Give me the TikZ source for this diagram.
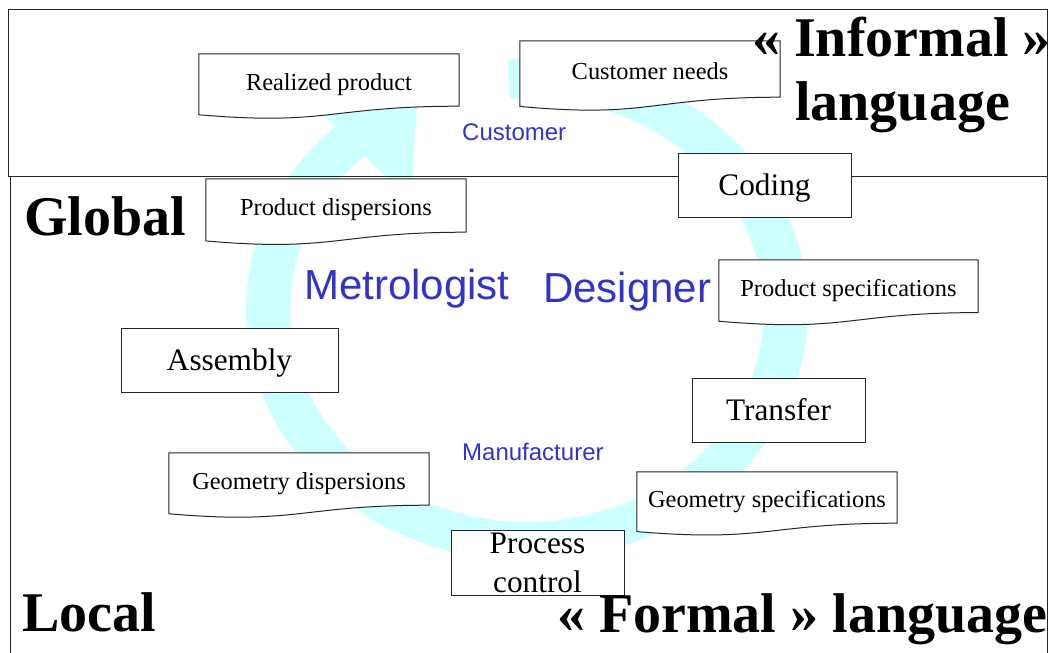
\documentclass[tikz,border=0pt]{standalone}
\usepackage{fontspec}
\setmainfont{Liberation Serif}
\newfontfamily\arialfont{Liberation Sans}
\usetikzlibrary{calc}
\definecolor{ringcyan}{HTML}{CCFFFF}
\definecolor{roleblue}{HTML}{3333CC}
\pgfdeclarelayer{bg}
\pgfsetlayers{bg,main}
\newcommand\docoutline[2]{\path[docline] (#1.north west) -- (#1.north east) -- (#1.south east) .. controls (#1.south) and ($(#1.south)+(0,{0.305*#2})$) .. ($(#1.south west)+(0,{0.132*#2})$) -- cycle;}
\begin{document}
\begin{tikzpicture}[x=1pt,y=-1pt,
  frame/.style={draw=black!85, line width=1pt},
  boxbase/.style={draw=black!85, line width=1pt, fill=white, inner sep=0pt, font=\fontsize{31.3}{39}\selectfont},
  boxnode/.style={boxbase, text height=28pt, text depth=7pt},
  docnode/.style={inner sep=0pt, font=\fontsize{24.4}{29}\selectfont, text height=25pt, text depth=5pt},
  docline/.style={draw=black!85, line width=1pt, fill=white},
  biglabel/.style={inner sep=0pt, anchor=base west, font=\fontsize{56}{60}\selectfont\bfseries},
  role/.style={inner sep=0pt, anchor=base west, text=roleblue, font=\arialfont\fontsize{24}{28}\selectfont},
  bigrole/.style={inner sep=0pt, anchor=base west, text=roleblue, font=\arialfont\fontsize{42}{48}\selectfont}
]
\useasboundingbox (0,0) rectangle (1053,653);

% document shapes (text nodes)
\node[docnode, minimum width=260pt, minimum height=52pt] (realized) at (329,80) {Realized product};
\node[docnode, minimum width=260pt, minimum height=56pt] (needs) at (650,69) {Customer needs};
\node[docnode, minimum width=260pt, minimum height=53pt] (pdisp) at (336,205.5) {Product dispersions};
\node[docnode, minimum width=259pt, minimum height=52.4pt] (pspec) at (848.5,286.2) {Product specifications};
\node[docnode, minimum width=260pt, minimum height=51pt] (gspec) at (767,497.5) {Geometry specifications};
\node[docnode, minimum width=260pt, minimum height=52pt] (gdisp) at (299,479) {Geometry dispersions};

% process boxes
\node[boxnode, minimum width=173pt, minimum height=64pt] (coding) at (764.5,185) {Coding};
\node[boxnode, minimum width=217pt, minimum height=64pt] (assembly) at (229.5,360) {Assembly};
\node[boxnode, minimum width=173pt, minimum height=64pt] (transfer) at (778.5,410) {Transfer};
\node[boxbase, minimum width=173pt, minimum height=65pt, align=center] (process) at (537.5,562.5) {Process\\control};

% big labels
\node[biglabel] (informal) at (752,56) {« Informal »};
\node[biglabel] (langtop) at (795,120) {language};
\node[biglabel] (global) at (24,235) {Global};
\node[biglabel] (local) at (22,631) {Local};
\node[biglabel] (formal) at (557,632) {« Formal » language};

% roles
\node[role] (customer) at (462,140) {Customer};
\node[role] (manuf) at (462,460) {Manufacturer};
\node[bigrole] (metro) at (304,299) {Metrologist};
\node[bigrole] (designer) at (543,302) {Designer};

\begin{pgfonlayer}{bg}
  % cyan circular arrow
  \fill[ringcyan] ($(527,310)+(-94:281 and 251)$)
     arc[start angle=-94, end angle=229, x radius=281, y radius=251]
     -- ($(527,310)+(229:237 and 212)$)
     arc[start angle=229, end angle=-94, x radius=237, y radius=212] -- cycle;
  \fill[ringcyan] (285.5,77.4) -- (419.4,66.6) -- (411,201) -- cycle;
  % frames
  \draw[frame] (8,9) rectangle (1047,176);
  \draw[frame] (10,660) -- (10,176) -- (1047,176) -- (1047,660);
  % document outlines
  \docoutline{realized}{64.8}
  \docoutline{needs}{69.8}
  \docoutline{pdisp}{66}
  \docoutline{pspec}{65.3}
  \docoutline{gspec}{63.6}
  \docoutline{gdisp}{64.8}
\end{pgfonlayer}
\end{tikzpicture}
\end{document}
